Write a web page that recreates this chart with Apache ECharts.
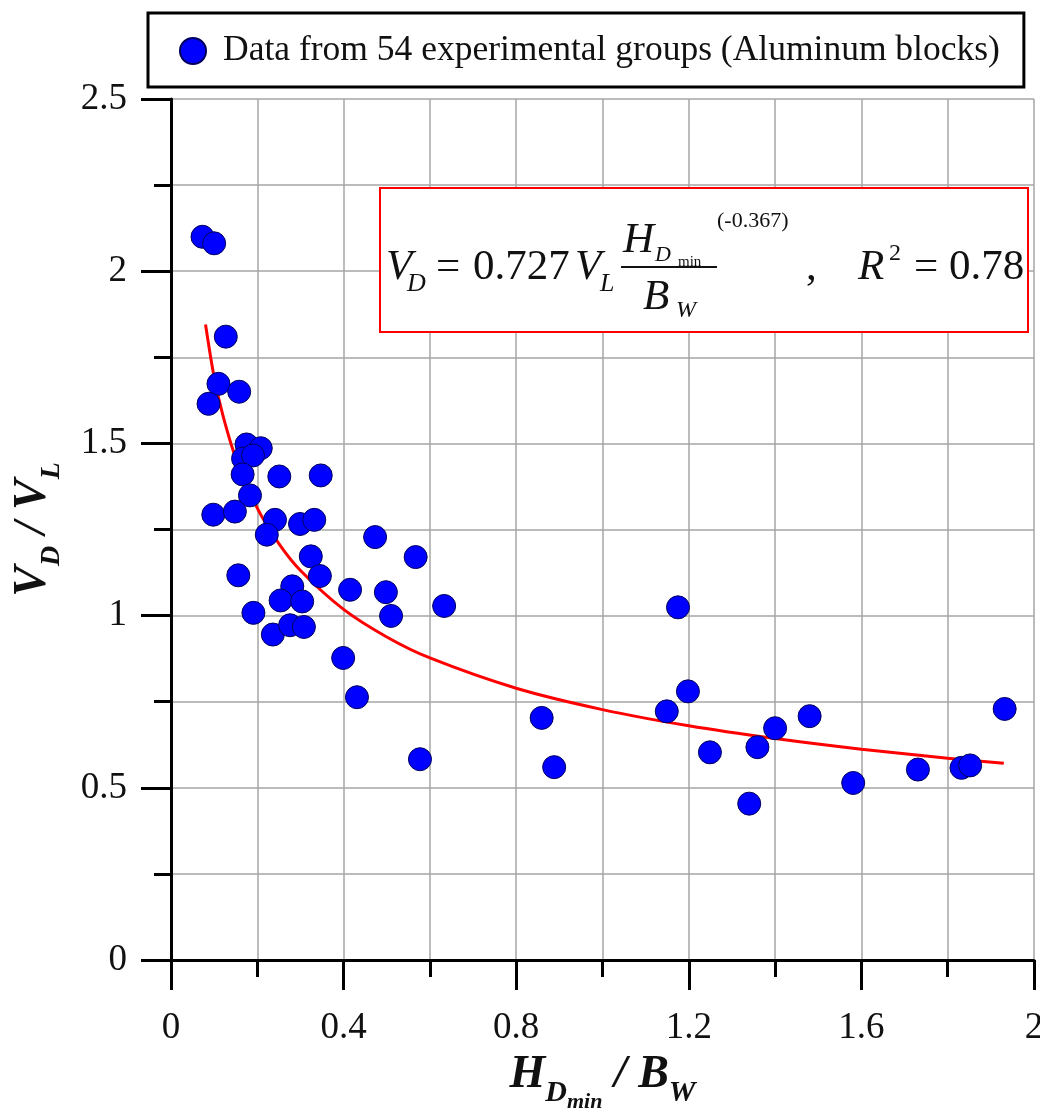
<!DOCTYPE html>
<html>
<head>
<meta charset="utf-8">
<script src="https://cdn.jsdelivr.net/npm/echarts@6/dist/echarts.min.js"></script>
<style>
html,body{margin:0;padding:0;background:#fff;}
#chart{width:1040px;height:1111px;}
</style>
</head>
<body>
<div id="chart"></div>
<script>
// ---- data ----
const seriesName = 'Data from 54 experimental groups (Aluminum blocks)';
const xValues = [0.073,0.100,0.127,0.110,0.158,0.087,0.175,0.208,0.167,0.190,0.166,0.251,0.347,0.183,0.098,0.148,0.241,0.222,0.299,0.332,0.324,0.345,0.156,0.281,0.254,0.304,0.415,0.191,0.236,0.276,0.308,0.399,0.473,0.567,0.498,0.633,0.510,0.431,0.577,
  0.859,0.888,1.175,1.198,1.149,1.249,1.359,1.400,1.340,1.480,1.581,1.731,1.832,1.852,1.932];
const yValues = [2.100,2.081,1.810,1.673,1.650,1.615,1.497,1.486,1.456,1.465,1.410,1.404,1.407,1.349,1.293,1.302,1.278,1.235,1.266,1.278,1.172,1.115,1.117,1.085,1.044,1.041,1.075,1.008,0.945,0.972,0.967,0.877,1.228,1.170,1.068,1.028,0.999,0.763,0.583,
  0.703,0.560,1.024,0.780,0.722,0.603,0.618,0.673,0.454,0.708,0.514,0.553,0.558,0.565,0.729];
// fitted curve as drawn
const fitX = [0.08,0.10,0.12,0.15,0.20,0.25,0.30,0.40,0.50,0.60,0.80,1.00,1.20,1.40,1.60,1.80,1.93];
const fitY = [1.845,1.692,1.583,1.458,1.312,1.209,1.131,1.018,0.938,0.877,0.789,0.727,0.680,0.643,0.612,0.586,0.571];
const xAxisRange = [0, 2, 0.4];
const yAxisRange = [0, 2.5, 0.5];

const scatterData = xValues.map((x, i) => [x, yValues[i]]);
const fitData = fitX.map((x, i) => [x, fitY[i]]);

const SERIF = '"Liberation Serif", "Times New Roman", serif';
const GRID_COLOR = '#a6a6a6';

function eqText(text, x, baseline, size, italic) {
  return {
    type: 'text',
    x: x,
    y: baseline - 0.34 * size,
    z: 101,
    style: {
      text: text,
      fontSize: size,
      fontFamily: SERIF,
      fontStyle: italic ? 'italic' : 'normal',
      fill: '#111',
      align: 'left', verticalAlign: 'middle',
      textAlign: 'left', textVerticalAlign: 'middle'
    }
  };
}

const chart = echarts.init(document.getElementById('chart'), null, {renderer: 'canvas'});
const option = {
  backgroundColor: '#fff',
  animation: false,
  grid: {left: 171, right: 6, top: 99, bottom: 151, containLabel: false, outerBoundsMode: 'none'},
  legend: {
    data: [seriesName],
    left: 148, top: 13,
    orient: 'horizontal',
    padding: [20, 24, 18, 31],
    borderColor: '#000', borderWidth: 3, backgroundColor: '#fff',
    itemWidth: 26, itemHeight: 26,
    textStyle: {fontSize: 35.5, fontFamily: SERIF, color: '#111', padding: [0, 0, 0, 12]}
  },
  xAxis: {
    type: 'value', min: xAxisRange[0], max: xAxisRange[1], interval: xAxisRange[2],
    name: '{v|H}{s|D}{ss|min}{v| / B}{s|W}',
    nameLocation: 'middle', nameGap: 91,
    nameTextStyle: {
      rich: {
        v: {fontSize: 46, fontFamily: SERIF, fontWeight: 'bold', fontStyle: 'italic', color: '#111', verticalAlign: 'bottom', padding: [0, 0, 15, 0]},
        s: {fontSize: 30, fontFamily: SERIF, fontWeight: 'bold', fontStyle: 'italic', color: '#111', verticalAlign: 'bottom', padding: [0, 0, 5, 0]},
        ss: {fontSize: 22, fontFamily: SERIF, fontWeight: 'bold', fontStyle: 'italic', color: '#111', verticalAlign: 'bottom'}
      }
    },
    axisLine: {show: true, onZero: false, lineStyle: {color: '#000', width: 3}},
    axisTick: {show: true, inside: false, length: 30, lineStyle: {color: '#000', width: 3}},
    minorTick: {show: true, splitNumber: 2, length: 17, lineStyle: {color: '#000', width: 3}},
    axisLabel: {fontSize: 37, fontFamily: SERIF, color: '#111', margin: 50},
    splitLine: {show: true, lineStyle: {color: GRID_COLOR, width: 1.5}},
    minorSplitLine: {show: true, lineStyle: {color: GRID_COLOR, width: 1.5}}
  },
  yAxis: {
    type: 'value', min: yAxisRange[0], max: yAxisRange[1], interval: yAxisRange[2],
    name: '{v|V}{s|D}{v| / V}{s|L}',
    nameLocation: 'middle', nameGap: 105, nameRotate: 90,
    nameTextStyle: {
      rich: {
        v: {fontSize: 46, fontFamily: SERIF, fontWeight: 'bold', fontStyle: 'italic', color: '#111', verticalAlign: 'bottom', padding: [0, 0, 10, 0]},
        s: {fontSize: 28, fontFamily: SERIF, fontWeight: 'bold', fontStyle: 'italic', color: '#111', verticalAlign: 'bottom'}
      }
    },
    axisLine: {show: true, onZero: false, lineStyle: {color: '#000', width: 3}},
    axisTick: {show: true, inside: false, length: 30, lineStyle: {color: '#000', width: 3}},
    minorTick: {show: true, splitNumber: 2, length: 17, lineStyle: {color: '#000', width: 3}},
    axisLabel: {fontSize: 37, fontFamily: SERIF, color: '#111', margin: 44},
    splitLine: {show: true, lineStyle: {color: GRID_COLOR, width: 1.5}},
    minorSplitLine: {show: true, lineStyle: {color: GRID_COLOR, width: 1.5}}
  },
  series: [
    {
      name: 'fit', type: 'line', data: fitData, smooth: 0.3,
      showSymbol: false, symbol: 'none',
      lineStyle: {color: '#ff0000', width: 3}, z: 3
    },
    {
      name: seriesName, type: 'scatter', data: scatterData,
      symbol: 'circle', symbolSize: 23,
      itemStyle: {color: '#0000ff', borderColor: '#00005a', borderWidth: 1, opacity: 1},
      z: 4
    }
  ],
  graphic: [
    {type: 'rect', z: 100, shape: {x: 380, y: 188, width: 648, height: 144},
     style: {fill: '#fff', stroke: '#ff0000', lineWidth: 2}},
    eqText('V', 386, 282, 43, true),
    eqText('D', 407, 293, 26, true),
    eqText('=', 436, 282, 43, false),
    eqText('0.727', 473, 282, 43, false),
    eqText('V', 575, 282, 43, true),
    eqText('L', 600, 293, 26, true),
    eqText('H', 623, 255, 43, true),
    eqText('D', 655, 263, 22, true),
    eqText('min', 678, 267, 15, false),
    {type: 'line', z: 101, shape: {x1: 621, y1: 267, x2: 717, y2: 267}, style: {stroke: '#111', lineWidth: 2}},
    eqText('B', 643, 312, 43, true),
    eqText('W', 676, 319, 24, true),
    eqText('(-0.367)', 717, 229, 22, false),
    eqText(',', 806, 282, 43, false),
    eqText('R', 858, 282, 43, true),
    eqText('2', 889, 262, 24, false),
    eqText('= 0.78', 914, 282, 43, false)
  ]
};
chart.setOption(option);
</script>
</body>
</html>
